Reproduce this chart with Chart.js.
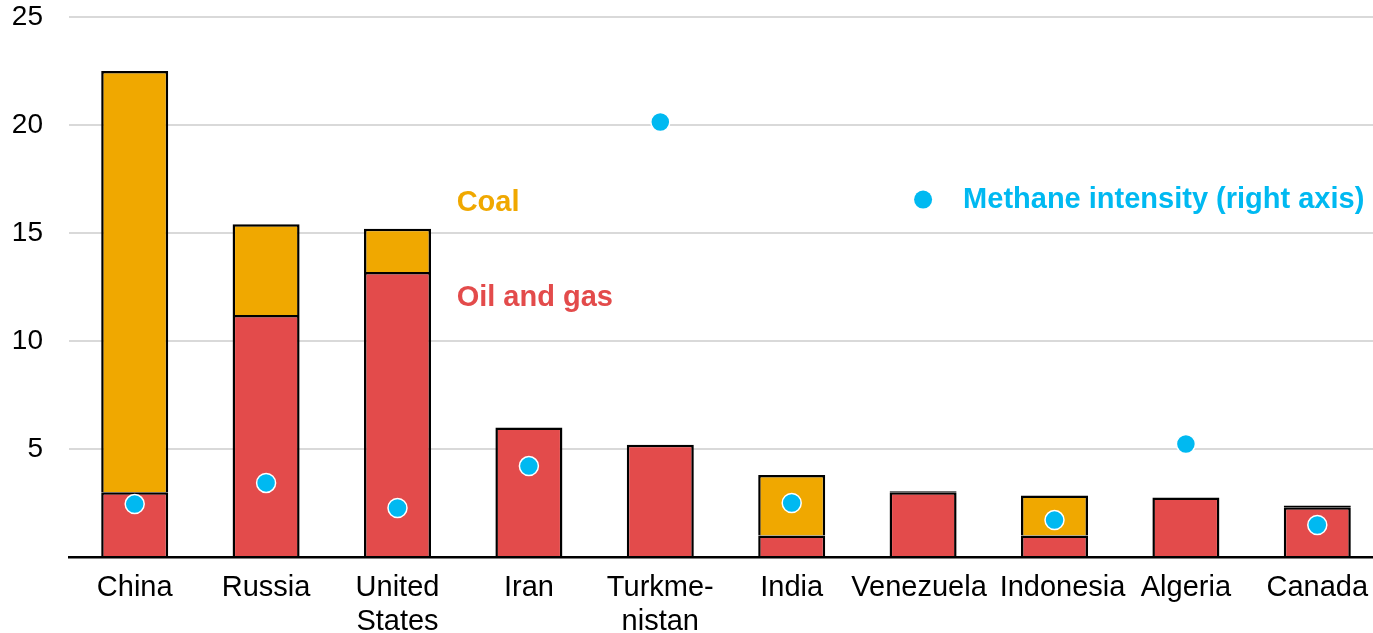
<!DOCTYPE html>
<html>
<head>
<meta charset="utf-8">
<script src="https://cdn.jsdelivr.net/npm/chart.js@4/dist/chart.umd.min.js"></script>
<style>
  html, body { margin: 0; padding: 0; background: #fff; overflow: hidden; }
  #wrap { width: 1394px; height: 633px; }
</style>
</head>
<body>
<div id="wrap"><canvas id="methaneChart" width="1394" height="633"></canvas></div>
<script>
// Emissions by country (left axis) and methane intensity (right axis)
const paises = ['China', 'Russia', ['United', 'States'], 'Iran', ['Turkme-', 'nistan'],
  'India', 'Venezuela ', '  Indonesia', 'Algeria', 'Canada'];
const petroleoGas = [3.0, 11.2, 13.2, 6.0, 5.2, 1.0, 3.0, 1.0, 2.75, 2.3];
const carbon = [19.5, 4.2, 2.0, 0, 0, 2.8, 0.04, 1.85, 0, 0.08];
const intensidad = [2.45, 3.43, 2.27, 4.21, 20.14, 2.5, null, 1.71, 5.23, 1.48];
const ticksY = [5, 10, 15, 20, 25];

const COLOR_CARBON = '#F0A800';
const COLOR_PETROLEO = '#E34B4B';
const COLOR_METANO = '#00B9F1';
const FUENTE = '"Liberation Sans", Arial, sans-serif';

// Etiquetas de series escritas dentro del área del gráfico
const etiquetasSeries = {
  id: 'etiquetasSeries',
  afterDatasetsDraw(chart) {
    const { ctx, scales: { x, y } } = chart;
    const paso = x.getPixelForValue(1) - x.getPixelForValue(0);
    ctx.save();
    ctx.font = 'bold 29px ' + FUENTE;
    ctx.textBaseline = 'middle';
    ctx.textAlign = 'left';

    ctx.fillStyle = COLOR_CARBON;
    ctx.fillText('Coal', x.getPixelForValue(2) + paso * 0.45, y.getPixelForValue(16.4));

    ctx.fillStyle = COLOR_PETROLEO;
    ctx.fillText('Oil and gas', x.getPixelForValue(2) + paso * 0.45, y.getPixelForValue(12.0));

    const xPunto = x.getPixelForValue(6);
    const yPunto = y.getPixelForValue(16.55);
    ctx.fillStyle = COLOR_METANO;
    ctx.beginPath();
    ctx.arc(xPunto, yPunto, 9, 0, Math.PI * 2);
    ctx.fill();
    ctx.fillText('Methane intensity (right axis)', xPunto + 40, yPunto);
    ctx.restore();
  }
};

new Chart(document.getElementById('methaneChart'), {
  type: 'bar',
  data: {
    labels: paises,
    datasets: [
      {
        type: 'line',
        label: 'Methane intensity',
        data: intensidad,
        yAxisID: 'y1',
        showLine: false,
        pointRadius: 9.5,
        pointBackgroundColor: COLOR_METANO,
        pointBorderColor: '#fff',
        pointBorderWidth: 1.5,
        order: 0
      },
      {
        label: 'Oil and gas',
        data: petroleoGas,
        backgroundColor: COLOR_PETROLEO,
        borderColor: '#000',
        borderWidth: 2.5,
        inflateAmount: 0,
        order: 1
      },
      {
        label: 'Coal',
        data: carbon,
        backgroundColor: COLOR_CARBON,
        borderColor: '#000',
        borderWidth: 2.5,
        inflateAmount: 0,
        // los tramos muy finos se dibujan solo como contorno
        borderSkipped: ctx => carbon[ctx.dataIndex] < 0.2 ? false : 'start',
        order: 2
      }
    ]
  },
  options: {
    responsive: false,
    animation: false,
    barPercentage: 0.51,
    categoryPercentage: 1,
    layout: { padding: 0 },
    plugins: {
      legend: { display: false },
      tooltip: { enabled: false }
    },
    scales: {
      x: {
        stacked: true,
        grid: { display: false },
        border: { display: true, color: '#000', width: 2.5 },
        ticks: {
          color: '#000',
          font: { family: FUENTE, size: 29, lineHeight: 1.17 },
          padding: 6,
          maxRotation: 0,
          autoSkip: false
        },
        afterFit(scale) {
          scale.height = 76;
          scale.paddingLeft = 0;
          scale.paddingRight = 0;
        }
      },
      y: {
        stacked: true,
        min: 0,
        max: 25,
        afterBuildTicks(scale) {
          scale.ticks = [0].concat(ticksY).map(v => ({ value: v }));
        },
        grid: {
          color: ctx => ctx.tick && ctx.tick.value === 0 ? 'rgba(0,0,0,0)' : '#D9D9D9',
          lineWidth: 2,
          drawTicks: false
        },
        border: { display: false },
        ticks: {
          color: '#000',
          font: { family: FUENTE, size: 28 },
          padding: 26,
          callback: v => v === 0 ? '' : v
        },
        afterFit(scale) {
          scale.width = 69;
          scale.paddingTop = 17;
          scale.paddingBottom = 0;
        }
      },
      y1: {
        display: false,
        min: 0,
        max: 25
      }
    }
  },
  plugins: [etiquetasSeries]
});
</script>
</body>
</html>
